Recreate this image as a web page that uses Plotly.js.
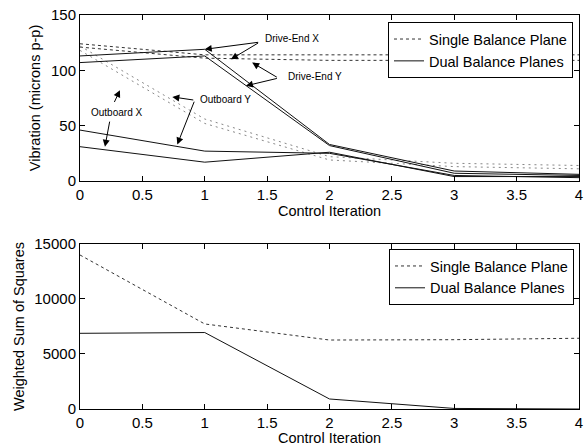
<!DOCTYPE html>
<html><head><meta charset="utf-8">
<script src="https://cdn.plot.ly/plotly-3.0.1.min.js"></script>
<style>html,body{margin:0;padding:0;background:#fff}#c{width:587px;height:446px}</style>
</head><body><div id="c"></div>
<script>
const iter = [0, 1, 2, 3, 4];
// Top chart: vibration (microns p-p)
const singleDEX = [124, 114, 114, 114, 114];
const singleDEY = [121, 111, 109, 109, 109];
const singleOBX = [118, 52, 19, 13, 11];
const singleOBY = [122, 56, 22, 16, 14];
const dualDEX = [113, 119, 33, 9, 6];
const dualDEY = [107, 113, 32, 7, 5];
const dualOBX = [31, 17, 26, 4, 4];
const dualOBY = [46, 27, 25, 5, 3];
// Bottom chart: weighted sum of squares
const wsosSingle = [14000, 7730, 6270, 6300, 6430];
const wsosDual = [6880, 6950, 910, 50, 0];

const xTicks = [0, 0.5, 1, 1.5, 2, 2.5, 3, 3.5, 4];
const xTickText = ['0', '0.5', '1', '1.5', '2', '2.5', '3', '3.5', '4'];
const yTicksTop = [0, 50, 100, 150];
const yTickTextTop = ['0', '50', '100', '150'];
const yTicksBot = [0, 5000, 10000, 15000];
const yTickTextBot = ['0', '5000', '10000', '15000'];

const labels = [
  {text: 'Drive-End X', x: 1.70, y: 129, tips: [[1.0, 119], [1.21, 110]], tail: [1.44, 125.5]},
  {text: 'Drive-End Y', x: 1.88, y: 94, tips: [[1.38, 107], [1.33, 86]], tail: [1.59, 93]},
  {text: 'Outboard Y', x: 1.17, y: 74, tips: [[0.74, 76], [0.78, 33]], tail: [0.92, 73]},
  {text: 'Outboard X', x: 0.29, y: 62, tips: [[0.32, 82]], tail: [0.27, 70]},
  {text: '', x: null, y: null, tips: [[0.2, 31]], tail: [0.24, 55]}
];

const dotLine = {color: '#333', width: 1, dash: '3px,3px'};
const dotLineLight = {color: '#888', width: 1, dash: '2px,4px'};
const solid = {color: '#111', width: 1};

function tr(y, line, name, show, xa, ya, leg) {
  return {x: iter, y: y, type: 'scatter', mode: 'lines', line: line, name: name,
    showlegend: show, xaxis: xa, yaxis: ya, legend: leg, hoverinfo: 'skip'};
}

const data = [
  tr(singleDEX, dotLine, 'Single Balance Plane', true, 'x', 'y', 'legend'),
  tr(singleDEY, dotLine, 'Single Balance Plane', false, 'x', 'y', 'legend'),
  tr(singleOBX, dotLineLight, 'Single Balance Plane', false, 'x', 'y', 'legend'),
  tr(singleOBY, dotLineLight, 'Single Balance Plane', false, 'x', 'y', 'legend'),
  tr(dualDEX, solid, 'Dual Balance Planes', true, 'x', 'y', 'legend'),
  tr(dualDEY, solid, 'Dual Balance Planes', false, 'x', 'y', 'legend'),
  tr(dualOBX, solid, 'Dual Balance Planes', false, 'x', 'y', 'legend'),
  tr(dualOBY, solid, 'Dual Balance Planes', false, 'x', 'y', 'legend'),
  tr(wsosSingle, dotLine, 'Single Balance Plane', true, 'x2', 'y2', 'legend2'),
  tr(wsosDual, solid, 'Dual Balance Planes', true, 'x2', 'y2', 'legend2')
];

const annotations = [];
labels.forEach(l => {
  if (l.text) annotations.push({x: l.x, y: l.y, xref: 'x', yref: 'y', text: l.text,
    showarrow: false, font: {family: 'Liberation Sans, Arial', size: 10, color: '#000'}});
  l.tips.forEach(t => annotations.push({x: t[0], y: t[1], xref: 'x', yref: 'y',
    ax: l.tail[0], ay: l.tail[1], axref: 'x', ayref: 'y', text: '', showarrow: true,
    arrowhead: 2, arrowsize: 1.4, arrowwidth: 1, arrowcolor: '#000', standoff: 0, startstandoff: 0}));
});

const font = {family: 'Liberation Sans, Arial, sans-serif', size: 14.5, color: '#000'};
const tickFont = {family: 'Liberation Sans, Arial, sans-serif', size: 15, color: '#000'};
function xax(anchor) {
  return {domain: [0, 1], range: [0, 4], anchor: anchor, tickvals: xTicks, ticktext: xTickText,
    ticks: 'inside', ticklen: 5, tickcolor: '#000', mirror: 'allticks', showline: true,
    linecolor: '#000', linewidth: 1, showgrid: false, zeroline: false,
    tickfont: tickFont, title: {text: 'Control Iteration', font: font, standoff: 0}};
}
function yax(anchor, dom, range, ticks, text, title) {
  return {domain: dom, range: range, anchor: anchor, tickvals: ticks, ticktext: text,
    ticks: 'inside', ticklen: 5, tickcolor: '#000', mirror: 'allticks', showline: true,
    linecolor: '#000', linewidth: 1, showgrid: false, zeroline: false,
    tickfont: tickFont, title: {text: title, font: font, standoff: 6}};
}

const layout = {
  width: 587, height: 446,
  margin: {l: 80, r: 8, t: 15, b: 37},
  paper_bgcolor: '#fff', plot_bgcolor: '#fff',
  font: font,
  showlegend: true,
  xaxis: xax('y'),
  yaxis: yax('x', [0.5787, 1], [0, 150], yTicksTop, yTickTextTop, 'Vibration (microns p-p)'),
  xaxis2: xax('y2'),
  yaxis2: yax('x2', [0, 0.4188], [0, 15000], yTicksBot, yTickTextBot, 'Weighted Sum of Squares'),
  legend: {x: 0.988, y: 0.982, xanchor: 'right', yanchor: 'top', bgcolor: '#fff',
    bordercolor: '#000', borderwidth: 1, font: font, tracegroupgap: 0, itemwidth: 30},
  legend2: {x: 0.99, y: 0.406, xanchor: 'right', yanchor: 'top', bgcolor: '#fff',
    bordercolor: '#000', borderwidth: 1, font: font, tracegroupgap: 0, itemwidth: 30},
  annotations: annotations
};

Plotly.newPlot('c', data, layout, {displayModeBar: false, staticPlot: true});
</script>
</body></html>
